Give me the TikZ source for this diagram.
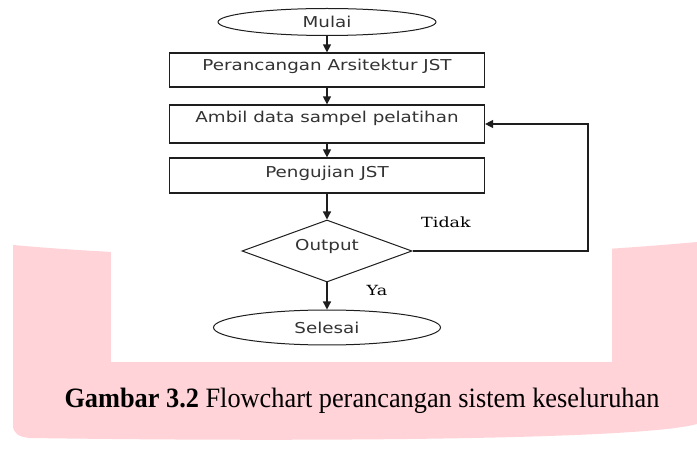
\documentclass[tikz,border=0pt]{standalone}
\usepackage{fontspec}
\usepackage{graphicx}
\setmainfont{Liberation Serif}
\newfontfamily\hurufalir{DejaVu Sans}
\newfontfamily\hurufcabang{DejaVu Serif}
\usetikzlibrary{shapes.geometric, arrows.meta, positioning}
\definecolor{latarmerah}{RGB}{255,211,216}
\definecolor{garis}{RGB}{30,30,30}
\newcommand{\teksalir}[1]{\scalebox{1.22}[1]{\hurufalir\fontsize{15}{18}\selectfont #1}}
\newcommand{\tekscabang}[1]{\scalebox{1.25}[1]{\hurufcabang\fontsize{14}{16}\selectfont #1}}

\begin{document}
\begin{tikzpicture}
        [
        x=1pt, y=-1pt,
            kotak/.style={
                rectangle,
                draw=garis,
                line width=1.2pt,
                minimum width=315pt,
                inner sep=0pt,
                text=black!80,
                text height=17.5pt,
                text depth=#1
            },
            kotak/.default=16.5pt,
            elips/.style={
                ellipse,
                draw=garis,
                line width=1pt,
                inner sep=0pt,
                text=black!80
            },
            belah/.style={
                diamond,
                draw=garis,
                line width=1pt,
                aspect=2.74,
                inner sep=0pt,
                minimum width=170pt,
                minimum height=62pt,
                text=black!80,
                text height=10pt,
                text depth=11pt
            },
            panah/.style={
                -{Triangle[length=8pt,width=8pt]},
                line width=1.3pt,
                draw=garis
            }
        ]
        \useasboundingbox (0,0) rectangle (697,449);
        % latar
        \fill[latarmerah] (13,245) .. controls (200,262) and (480,262) .. (697,242)
            -- (697,424) .. controls (640,440) and (300,442) .. (30,438)
            .. controls (18,437) and (13,433) .. (13,425) -- cycle;
        \fill[white] (111,0) rectangle (612,362);

        \node(mulai) [elips, minimum width=218pt, minimum height=27pt] at (327,22) {\teksalir{Mulai}};
        \node(rancang) [kotak] at (327,70) {\teksalir{Perancangan Arsitektur JST}};
        \node(ambil) [kotak=20.5pt] at (327,124) {\teksalir{Ambil data sampel pelatihan}};
        \node(uji) [kotak, text height=19.5pt, text depth=15.5pt] at (327,175.5) {\teksalir{Pengujian JST}};
        \node(output) [belah] at (327,251) {\teksalir{Output}};
        \node(selesai) [elips, minimum width=227pt, minimum height=35pt] at (327,327.5) {\teksalir{Selesai}};
        \coordinate(balik) at (588,251);

        \node(tidak) at (446,222) {\tekscabang{Tidak}};
        \node(ya) at (377,290) {\tekscabang{Ya}};

        \draw[panah] (mulai)--(rancang);
        \draw[panah] (rancang)--(ambil);
        \draw[panah] (ambil)--(uji);
        \draw[panah] (uji)--(output);
        \draw[panah] (output)--(selesai);
        \draw[panah] (output.east)--(balik)|-(ambil.east);

        \node(judul) [anchor=base] at (362,408) {\scalebox{0.94}[1]{\fontsize{28}{32}\selectfont\textbf{Gambar 3.2} Flowchart perancangan sistem keseluruhan}};
    \end{tikzpicture}
\end{document}
